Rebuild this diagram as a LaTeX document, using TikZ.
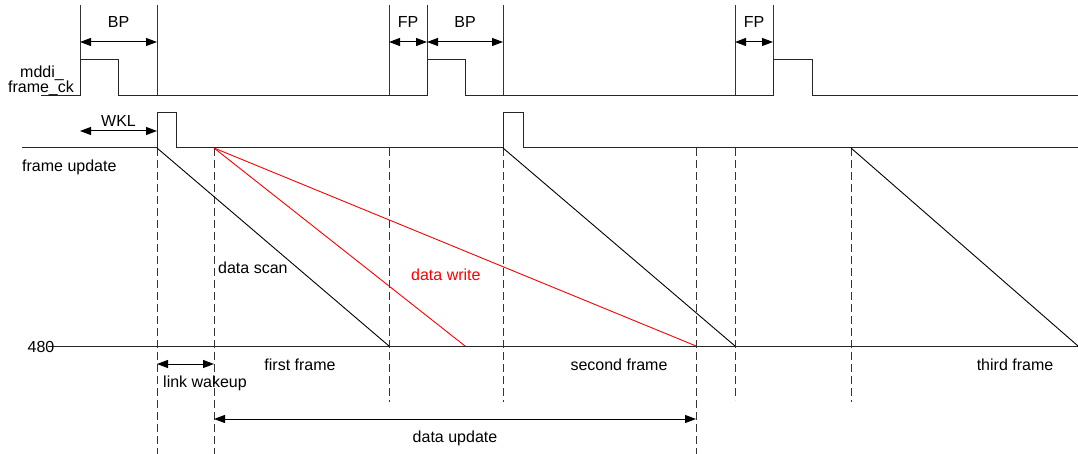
\documentclass[tikz,border=0pt]{standalone}
\usepackage{fontspec}
\setmainfont{Liberation Sans}
\usetikzlibrary{arrows.meta}
\begin{document}
\begin{tikzpicture}[x=1pt,y=-1pt,
  wave/.style={line width=1pt, line join=miter, black!85},
  guide/.style={line width=1pt, black!80},
  dashguide/.style={line width=1pt, black!80, dash pattern=on 8pt off 4pt},
  slope/.style={line width=0.9pt, black},
  writeline/.style={line width=0.9pt, red},
  dim/.style={line width=1pt, {Triangle[length=11pt,width=8pt]}-{Triangle[length=11pt,width=8pt]}},
  lbl/.style={font=\fontsize{16}{17}\selectfont, inner sep=0pt, anchor=base},
  lbll/.style={lbl, anchor=base west},
]
\useasboundingbox (0,0) rectangle (1078,454);

% ---------- named coordinates ----------
\foreach \x/\n in {80/a,157/b,389/c,427/d,503/e,735/f,773/g}{
  \coordinate (top\n) at (\x,5);
  \coordinate (low\n) at (\x,96);
  \coordinate (dim\n) at (\x,42);
}
\coordinate (wklL) at (80,131);
\coordinate (wklR) at (157,131);
\coordinate (lwL) at (157,364);
\coordinate (lwR) at (214,364);
\coordinate (duL) at (214,419);
\coordinate (duR) at (696,419);

% frame update origins and 480 ends
\coordinate (fu157) at (157,148);
\coordinate (fu214) at (214,148);
\coordinate (fu503) at (503,148);
\coordinate (fu851) at (851,148);
\coordinate (e389) at (389,346);
\coordinate (e465) at (465,346);
\coordinate (e696) at (696,346);
\coordinate (e735) at (735,346);
\coordinate (e1078) at (1078,346);

% ---------- top vertical guides ----------
\foreach \n in {a,b,c,d,e,f,g}{
  \draw[guide] (top\n) -- (low\n);
}

% ---------- mddi_frame_ck waveform ----------
\draw[wave] (41,96) -- (80,96) -- (80,60) -- (118,60) -- (118,96)
  -- (427,96) -- (427,60) -- (465,60) -- (465,96)
  -- (773,96) -- (773,60) -- (812,60) -- (812,96) -- (1078,96);

% ---------- frame update waveform ----------
\draw[wave] (22,148) -- (157,148) -- (157,113) -- (176,113) -- (176,148)
  -- (503,148) -- (503,113) -- (523,113) -- (523,148) -- (1078,148);

% ---------- 480 line ----------
\draw[wave] (48,346) -- (1078,346);

% ---------- dashed guides ----------
\draw[dashguide] (157,148) -- (157,454);
\draw[dashguide] (214,148) -- (214,454);
\draw[dashguide] (389,148) -- (389,402);
\draw[dashguide] (503,148) -- (503,402);
\draw[dashguide] (696,148) -- (696,454);
\draw[dashguide] (735,148) -- (735,400);
\draw[dashguide] (851,148) -- (851,402);

% ---------- data scan / write slopes ----------
\draw[slope] (fu157) -- (e389);
\draw[slope] (fu503) -- (e735);
\draw[slope] (fu851) -- (e1078);
\draw[writeline] (fu214) -- (e465);
\draw[writeline] (fu214) -- (e696);

% ---------- dimension arrows ----------
\draw[dim] (dima) -- (dimb);
\draw[dim] (dimc) -- (dimd);
\draw[dim] (dimd) -- (dime);
\draw[dim] (dimf) -- (dimg);
\draw[dim] (wklL) -- (wklR);
\draw[dim] (lwL) -- (lwR);
\draw[dim] (duL) -- (duR);

% ---------- labels ----------
\node[lbl] (bp1) at (118.5,28) {BP};
\node[lbl] (fp1) at (408,28) {FP};
\node[lbl] (bp2) at (465,28) {BP};
\node[lbl] (fp2) at (754,28) {FP};
\node[lbl] (wkl) at (118.5,127) {WKL};
\node[lbl] (mddi) at (42,78) {mddi\_};
\node[lbl] (fck) at (41,93) {frame\_ck};
\node[lbll] (fupd) at (22,172) {frame update};
\node[lbl] (n480) at (41,352) {480};
\node[lbll] (dscan) at (218,273) {data scan};
\node[lbll, text=red] (dwrite) at (411,280) {data write};
\node[lbl] (ff) at (300,370) {first frame};
\node[lbl] (sf) at (619,370) {second frame};
\node[lbl] (tf) at (1015,370) {third frame};
\node[lbll] (lw) at (163,387) {link wakeup};
\node[lbl] (du) at (455,442) {data update};
\end{tikzpicture}
\end{document}
